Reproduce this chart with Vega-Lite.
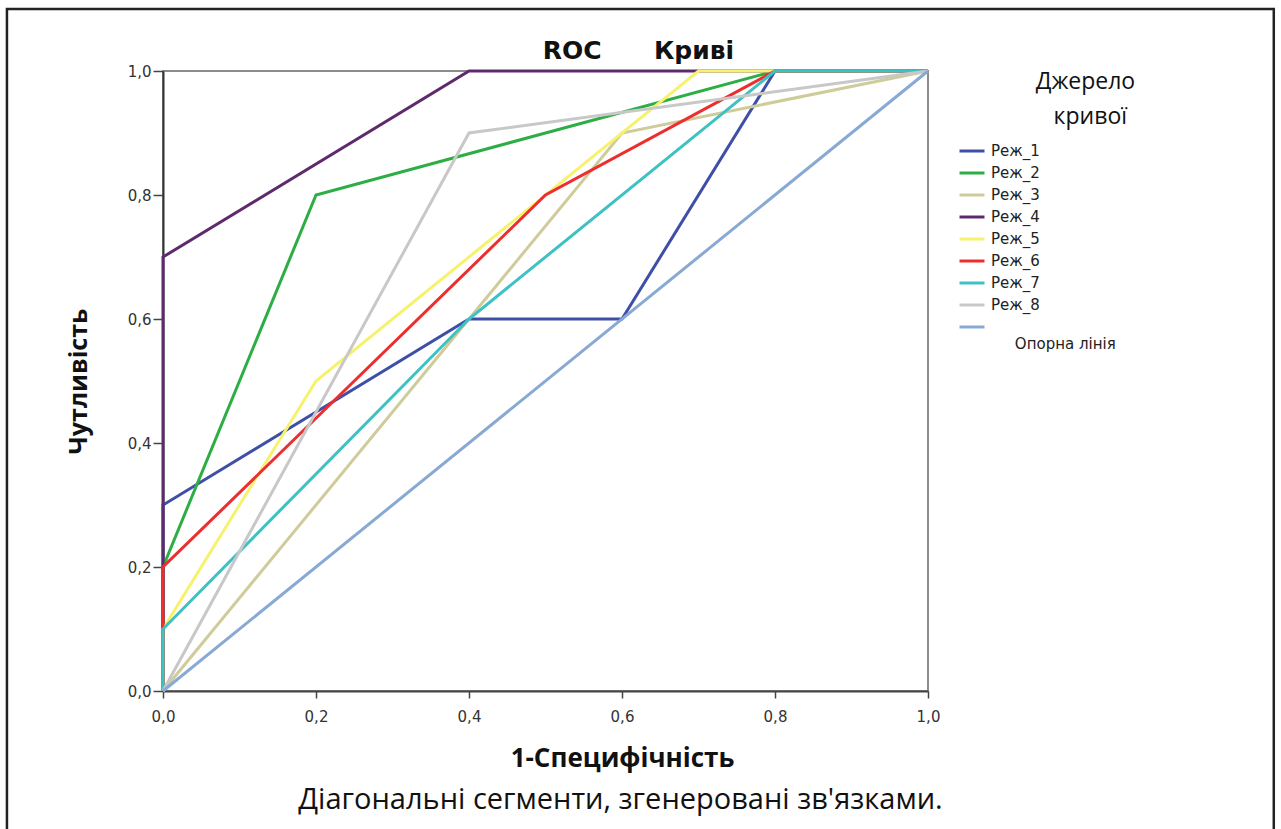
{
  "$schema": "https://vega.github.io/schema/vega-lite/v6.json",
  "autosize": "none",
  "width": 765,
  "height": 620,
  "padding": {"left": 163, "top": 71, "right": 353, "bottom": 138},
  "background": "white",
  "config": {
    "view": {"stroke": "#8c8c8c", "strokeWidth": 2},
    "axis": {"grid": false, "labelFlush": false}
  },
  "resolve": {"axis": {"x": "independent", "y": "independent"}},
  "layer": [
    {
      "data": {"values": [{}]},
      "mark": {"type": "rect", "fill": null, "stroke": "#222222", "strokeWidth": 2.5},
      "encoding": {
        "x": {"datum": -0.204, "type": "quantitative", "scale": {"domain": [0, 1]},
          "axis": {"orient": "top", "title": "ROC\u00a0\u00a0\u00a0\u00a0\u00a0\u00a0Криві", "domain": false, "ticks": false, "labels": false,
            "titleFont": "DejaVu Sans", "titleFontSize": 25, "titleFontWeight": "bold", "titleColor": "#111111",
            "titleX": 475, "titleY": -13, "titleAlign": "center", "titleBaseline": "alphabetic"}},
        "x2": {"datum": 1.452},
        "y": {"datum": 1.1, "type": "quantitative", "scale": {"domain": [0, 1]}, "axis": null},
        "y2": {"datum": -0.25}
      }
    },
    {
      "data": {"values": [
        {"curve": "Реж_1", "i": 0, "x": 0, "y": 0},
        {"curve": "Реж_1", "i": 1, "x": 0, "y": 0.3},
        {"curve": "Реж_1", "i": 2, "x": 0.4, "y": 0.6},
        {"curve": "Реж_1", "i": 3, "x": 0.6, "y": 0.6},
        {"curve": "Реж_1", "i": 4, "x": 0.8, "y": 1},
        {"curve": "Реж_1", "i": 5, "x": 1, "y": 1},
        {"curve": "Реж_2", "i": 0, "x": 0, "y": 0},
        {"curve": "Реж_2", "i": 1, "x": 0, "y": 0.2},
        {"curve": "Реж_2", "i": 2, "x": 0.2, "y": 0.8},
        {"curve": "Реж_2", "i": 3, "x": 0.8, "y": 1},
        {"curve": "Реж_2", "i": 4, "x": 1, "y": 1},
        {"curve": "Реж_3", "i": 0, "x": 0, "y": 0},
        {"curve": "Реж_3", "i": 1, "x": 0.6, "y": 0.9},
        {"curve": "Реж_3", "i": 2, "x": 1, "y": 1},
        {"curve": "Реж_4", "i": 0, "x": 0, "y": 0},
        {"curve": "Реж_4", "i": 1, "x": 0, "y": 0.7},
        {"curve": "Реж_4", "i": 2, "x": 0.4, "y": 1},
        {"curve": "Реж_4", "i": 3, "x": 1, "y": 1},
        {"curve": "Реж_5", "i": 0, "x": 0, "y": 0},
        {"curve": "Реж_5", "i": 1, "x": 0, "y": 0.1},
        {"curve": "Реж_5", "i": 2, "x": 0.2, "y": 0.5},
        {"curve": "Реж_5", "i": 3, "x": 0.7, "y": 1},
        {"curve": "Реж_5", "i": 4, "x": 1, "y": 1},
        {"curve": "Реж_6", "i": 0, "x": 0, "y": 0},
        {"curve": "Реж_6", "i": 1, "x": 0, "y": 0.2},
        {"curve": "Реж_6", "i": 2, "x": 0.5, "y": 0.8},
        {"curve": "Реж_6", "i": 3, "x": 0.8, "y": 1},
        {"curve": "Реж_6", "i": 4, "x": 1, "y": 1},
        {"curve": "Реж_7", "i": 0, "x": 0, "y": 0},
        {"curve": "Реж_7", "i": 1, "x": 0, "y": 0.1},
        {"curve": "Реж_7", "i": 2, "x": 0.4, "y": 0.6},
        {"curve": "Реж_7", "i": 3, "x": 0.8, "y": 1},
        {"curve": "Реж_7", "i": 4, "x": 1, "y": 1},
        {"curve": "Реж_8", "i": 0, "x": 0, "y": 0},
        {"curve": "Реж_8", "i": 1, "x": 0.4, "y": 0.9},
        {"curve": "Реж_8", "i": 2, "x": 1, "y": 1},
        {"curve": "Опорна лінія", "i": 0, "x": 0, "y": 0},
        {"curve": "Опорна лінія", "i": 1, "x": 1, "y": 1}
      ]},
      "mark": {"type": "line", "strokeWidth": 3},
      "encoding": {
        "x": {"field": "x", "type": "quantitative", "scale": {"domain": [0, 1]},
          "axis": {"orient": "bottom", "title": "1-Специфічність", "values": [0, 0.2, 0.4, 0.6, 0.8, 1],
            "labelExpr": "replace(format(datum.value, '.1f'), '.', ',')",
            "domainColor": "#444444", "domainWidth": 2, "tickColor": "#444444", "tickSize": 7, "tickWidth": 1.5,
            "labelFont": "DejaVu Sans", "labelFontSize": 15, "labelColor": "#333333", "labelPadding": 11,
            "titleFont": "Open Sans", "titleFontSize": 26, "titleFontWeight": "bold", "titleColor": "#111111",
            "titlePadding": 21, "titleX": 459, "titleAlign": "center"}},
        "y": {"field": "y", "type": "quantitative", "scale": {"domain": [0, 1]},
          "axis": {"orient": "left", "title": "Чутливість", "values": [0, 0.2, 0.4, 0.6, 0.8, 1],
            "labelExpr": "replace(format(datum.value, '.1f'), '.', ',')",
            "domainColor": "#333333", "domainWidth": 2, "tickColor": "#444444", "tickSize": 10, "tickWidth": 1.5,
            "labelFont": "DejaVu Sans", "labelFontSize": 15, "labelColor": "#333333", "labelPadding": 2,
            "titleFont": "Open Sans", "titleFontSize": 25, "titleFontWeight": "bold", "titleColor": "#111111",
            "titlePadding": 36}},
        "color": {"field": "curve", "type": "nominal",
          "scale": {
            "domain": ["Реж_1", "Реж_2", "Реж_3", "Реж_4", "Реж_5", "Реж_6", "Реж_7", "Реж_8", "Опорна лінія"],
            "range": ["#3E4FA8", "#2DAE45", "#CFCB9A", "#5E2A6E", "#F6F26E", "#EE2E2E", "#3EC1C3", "#C8C8C8", "#88A9D3"]
          },
          "legend": {
            "orient": "right", "offset": 24,
            "title": ["\u200b\u00a0\u00a0\u00a0\u00a0\u00a0\u00a0\u00a0\u00a0\u00a0\u00a0\u00a0\u00a0\u00a0Джерело", "\u200b\u00a0\u00a0\u00a0\u00a0\u00a0\u00a0\u00a0\u00a0\u00a0\u00a0\u00a0\u00a0\u00a0\u00a0\u00a0\u00a0кривої"],
            "titleFont": "Open Sans", "titleFontSize": 23, "titleFontWeight": "normal", "titleColor": "#111111",
            "titleLineHeight": 35, "titleAlign": "left", "titlePadding": 8,
            "labelFont": "DejaVu Sans", "labelFontSize": 15, "labelColor": "#222222", "labelOffset": 5,
            "labelExpr": "datum.label == 'Опорна лінія' ? ['', '', '\u200b\u00a0\u00a0\u00a0\u00a0\u00a0Опорна лінія'] : datum.label",
            "symbolType": "stroke", "symbolSize": 625, "symbolStrokeWidth": 3, "rowPadding": -2
          }},
        "order": {"field": "i", "type": "quantitative"}
      }
    },
    {
      "data": {"values": [{}]},
      "mark": {"type": "rule", "opacity": 0},
      "encoding": {
        "x": {"datum": 0, "type": "quantitative", "scale": {"domain": [0, 1]},
          "axis": {"orient": "bottom", "title": "Діагональні сегменти, згенеровані зв'язками.", "domain": false, "ticks": false, "labels": false,
            "titleFont": "Open Sans", "titleFontSize": 29, "titleFontWeight": "normal", "titleColor": "#111111",
            "titlePadding": 94, "titleX": 457, "titleAlign": "center"}}
      }
    }
  ]
}
